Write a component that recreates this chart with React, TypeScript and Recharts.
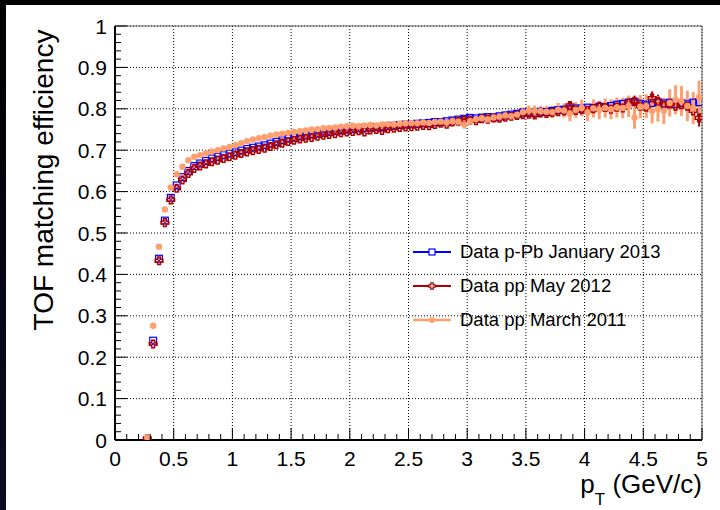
import React from "react"
import {
  ScatterChart,
  Scatter,
  XAxis,
  YAxis,
  CartesianGrid,
  ReferenceLine,
  ErrorBar,
  Legend,
} from "recharts"

const FONT = '"Liberation Sans", Arial, Helvetica, sans-serif'

// bin centres (GeV/c)
const ptBins = [
  0.275, 0.325, 0.375, 0.425, 0.475, 0.525, 0.575, 0.625, 0.675, 0.725,
  0.775, 0.825, 0.875, 0.925, 0.975, 1.025, 1.075, 1.125, 1.175, 1.225,
  1.275, 1.325, 1.375, 1.425, 1.475, 1.525, 1.575, 1.625, 1.675, 1.725,
  1.775, 1.825, 1.875, 1.925, 1.975, 2.025, 2.075, 2.125, 2.175, 2.225,
  2.275, 2.325, 2.375, 2.425, 2.475, 2.525, 2.575, 2.625, 2.675, 2.725,
  2.775, 2.825, 2.875, 2.925, 2.975, 3.025, 3.075, 3.125, 3.175, 3.225,
  3.275, 3.325, 3.375, 3.425, 3.475, 3.525, 3.575, 3.625, 3.675, 3.725,
  3.775, 3.825, 3.875, 3.925, 3.975, 4.025, 4.075, 4.125, 4.175, 4.225,
  4.275, 4.325, 4.375, 4.425, 4.475, 4.525, 4.575, 4.625, 4.675, 4.725,
  4.775, 4.825, 4.875, 4.925, 4.975,
]

// Data p-Pb January 2013
const effPPb2013 = [
  0.000, 0.240, 0.438, 0.530, 0.585, 0.615, 0.635, 0.650, 0.662, 0.668,
  0.674, 0.680, 0.684, 0.688, 0.692, 0.695, 0.699, 0.703, 0.706, 0.709,
  0.712, 0.716, 0.720, 0.724, 0.728, 0.730, 0.733, 0.735, 0.738, 0.740,
  0.742, 0.744, 0.746, 0.748, 0.750, 0.751, 0.753, 0.754, 0.754, 0.756,
  0.756, 0.758, 0.759, 0.761, 0.762, 0.763, 0.764, 0.765, 0.766, 0.768,
  0.768, 0.770, 0.772, 0.774, 0.776, 0.778, 0.777, 0.779, 0.780, 0.779,
  0.782, 0.784, 0.786, 0.788, 0.791, 0.792, 0.790, 0.793, 0.792, 0.795,
  0.797, 0.798, 0.799, 0.801, 0.800, 0.803, 0.802, 0.805, 0.804, 0.807,
  0.810, 0.812, 0.815, 0.817, 0.812, 0.810, 0.814, 0.816, 0.813, 0.815,
  0.812, 0.814, 0.811, 0.815, 0.816,
]
const errPPb2013 = [
  0.001, 0.002, 0.002, 0.002, 0.002, 0.002, 0.002, 0.002, 0.002, 0.002,
  0.002, 0.002, 0.002, 0.002, 0.002, 0.002, 0.002, 0.002, 0.002, 0.002,
  0.002, 0.002, 0.002, 0.002, 0.002, 0.002, 0.002, 0.002, 0.002, 0.002,
  0.002, 0.002, 0.002, 0.002, 0.002, 0.002, 0.002, 0.002, 0.002, 0.002,
  0.002, 0.002, 0.002, 0.002, 0.003, 0.003, 0.003, 0.003, 0.003, 0.003,
  0.003, 0.003, 0.003, 0.003, 0.003, 0.003, 0.003, 0.003, 0.004, 0.004,
  0.004, 0.004, 0.004, 0.004, 0.004, 0.004, 0.005, 0.005, 0.005, 0.005,
  0.005, 0.005, 0.005, 0.006, 0.006, 0.006, 0.006, 0.006, 0.006, 0.006,
  0.007, 0.007, 0.007, 0.007, 0.007, 0.007, 0.008, 0.008, 0.008, 0.008,
  0.008, 0.008, 0.009, 0.009, 0.009,
]

// Data pp May 2012
const effPP2012 = [
  0.003, 0.232, 0.433, 0.525, 0.580, 0.608, 0.628, 0.644, 0.656, 0.662,
  0.667, 0.672, 0.676, 0.680, 0.684, 0.688, 0.692, 0.696, 0.699, 0.702,
  0.705, 0.709, 0.713, 0.717, 0.721, 0.724, 0.727, 0.729, 0.731, 0.734,
  0.736, 0.738, 0.740, 0.742, 0.744, 0.745, 0.747, 0.744, 0.749, 0.750,
  0.748, 0.752, 0.753, 0.755, 0.756, 0.757, 0.758, 0.760, 0.759, 0.762,
  0.765, 0.763, 0.768, 0.770, 0.772, 0.773, 0.771, 0.776, 0.775, 0.778,
  0.777, 0.780, 0.782, 0.784, 0.786, 0.787, 0.785, 0.790, 0.789, 0.791,
  0.793, 0.795, 0.808, 0.796, 0.798, 0.796, 0.800, 0.806, 0.803, 0.799,
  0.804, 0.802, 0.814, 0.818, 0.806, 0.804, 0.826, 0.818, 0.808, 0.812,
  0.806, 0.810, 0.806, 0.795, 0.778,
]
const errPP2012 = [
  0.001, 0.002, 0.002, 0.002, 0.002, 0.002, 0.002, 0.002, 0.002, 0.002,
  0.002, 0.002, 0.002, 0.002, 0.002, 0.002, 0.002, 0.002, 0.002, 0.002,
  0.002, 0.002, 0.002, 0.002, 0.002, 0.002, 0.002, 0.002, 0.002, 0.002,
  0.003, 0.003, 0.003, 0.003, 0.003, 0.003, 0.003, 0.003, 0.003, 0.003,
  0.003, 0.003, 0.003, 0.003, 0.003, 0.004, 0.004, 0.004, 0.004, 0.004,
  0.004, 0.004, 0.004, 0.005, 0.005, 0.005, 0.005, 0.005, 0.005, 0.006,
  0.006, 0.006, 0.006, 0.007, 0.007, 0.007, 0.007, 0.008, 0.008, 0.008,
  0.009, 0.009, 0.010, 0.010, 0.010, 0.011, 0.011, 0.012, 0.012, 0.012,
  0.013, 0.013, 0.014, 0.014, 0.015, 0.015, 0.016, 0.016, 0.017, 0.017,
  0.018, 0.018, 0.019, 0.020, 0.021,
]

// Data pp March 2011
const effPP2011 = [
  0.006, 0.276, 0.467, 0.557, 0.610, 0.642, 0.660, 0.676, 0.684, 0.688,
  0.692, 0.697, 0.700, 0.704, 0.708, 0.712, 0.717, 0.722, 0.726, 0.729,
  0.732, 0.735, 0.738, 0.740, 0.742, 0.744, 0.746, 0.748, 0.750, 0.751,
  0.753, 0.754, 0.755, 0.757, 0.758, 0.759, 0.758, 0.760, 0.761, 0.760,
  0.762, 0.763, 0.762, 0.764, 0.765, 0.766, 0.765, 0.767, 0.766, 0.768,
  0.769, 0.767, 0.770, 0.769, 0.762, 0.770, 0.775, 0.777, 0.774, 0.779,
  0.781, 0.784, 0.782, 0.786, 0.792, 0.796, 0.795, 0.794, 0.793, 0.792,
  0.798, 0.796, 0.788, 0.797, 0.802, 0.791, 0.801, 0.797, 0.802, 0.799,
  0.803, 0.802, 0.806, 0.779, 0.805, 0.806, 0.795, 0.800, 0.795, 0.814,
  0.822, 0.819, 0.807, 0.802, 0.828,
]
const errPP2011 = [
  0.002, 0.004, 0.003, 0.003, 0.003, 0.003, 0.003, 0.003, 0.003, 0.003,
  0.003, 0.003, 0.003, 0.003, 0.003, 0.003, 0.003, 0.003, 0.003, 0.003,
  0.003, 0.003, 0.003, 0.003, 0.003, 0.003, 0.003, 0.003, 0.003, 0.003,
  0.004, 0.004, 0.004, 0.004, 0.004, 0.004, 0.004, 0.004, 0.004, 0.004,
  0.004, 0.004, 0.005, 0.005, 0.005, 0.005, 0.005, 0.006, 0.006, 0.006,
  0.006, 0.006, 0.007, 0.007, 0.010, 0.008, 0.008, 0.008, 0.009, 0.009,
  0.009, 0.010, 0.010, 0.011, 0.011, 0.012, 0.013, 0.013, 0.014, 0.015,
  0.016, 0.017, 0.018, 0.019, 0.020, 0.021, 0.022, 0.022, 0.023, 0.024,
  0.024, 0.025, 0.026, 0.027, 0.028, 0.029, 0.030, 0.031, 0.032, 0.033,
  0.035, 0.036, 0.037, 0.039, 0.040,
]

const seriesNames = [
  "Data p-Pb January 2013",
  "Data pp May 2012",
  "Data pp March 2011",
]

const xMajor = [0, 0.5, 1, 1.5, 2, 2.5, 3, 3.5, 4, 4.5, 5]
const yMajor = [0, 0.1, 0.2, 0.3, 0.4, 0.5, 0.6, 0.7, 0.8, 0.9, 1]

const BLUE = "#0000ff"
const RED = "#b00000"
const ORANGE = "#ff9e6e"

// minor ticks between majors (ROOT style divisions)
function subdivide(majors: number[], n: number) {
  const out: number[] = []
  for (let i = 0; i < majors.length - 1; i++) {
    for (let k = 0; k < n; k++) {
      out.push(+(majors[i] + ((majors[i + 1] - majors[i]) * k) / n).toFixed(4))
    }
  }
  out.push(majors[majors.length - 1])
  return out
}
const xTicks = subdivide(xMajor, 5)
const yTicks = subdivide(yMajor, 5)

const isMajor = (majors: number[], v: number) =>
  majors.some((m) => Math.abs(m - v) < 1e-6)

const toPoints = (vals: number[], errs: number[]) =>
  ptBins.map((pt, i) => ({ pt, v: vals[i], e: errs[i] }))

const pPbData = toPoints(effPPb2013, errPPb2013)
const pp12Data = toPoints(effPP2012, errPP2012)
const pp11Data = toPoints(effPP2011, errPP2011)

const XTick = (props: any) => {
  const { x, y, payload } = props
  const major = isMajor(xMajor, payload.value)
  return (
    <g>
      <line x1={x} x2={x} y1={y} y2={y - (major ? 12 : 6)} stroke="#000" strokeWidth={1} />
      {major && (
        <text x={x} y={y + 26} textAnchor="middle" fontSize={21} fontFamily={FONT} fill="#000">
          {String(payload.value)}
        </text>
      )}
    </g>
  )
}

const YTick = (props: any) => {
  const { x, y, payload } = props
  const major = isMajor(yMajor, payload.value)
  return (
    <g>
      <line x1={x} x2={x + (major ? 12 : 6)} y1={y} y2={y} stroke="#000" strokeWidth={1} />
      {major && (
        <text x={x - 8} y={y + 7.5} textAnchor="end" fontSize={21} fontFamily={FONT} fill="#000">
          {String(payload.value)}
        </text>
      )}
    </g>
  )
}

const crossPath = (cx: number, cy: number, a: number, b: number) =>
  `M${cx - a},${cy - b}H${cx + a}V${cy - a}H${cx + b}V${cy + a}H${cx + a}V${cy + b}` +
  `H${cx - a}V${cy + a}H${cx - b}V${cy - a}H${cx - a}Z`

const SquareMarker = (p: any) => (
  <rect x={p.cx - 3.4} y={p.cy - 3.4} width={6.8} height={6.8} fill="none" stroke={BLUE} strokeWidth={1.2} />
)
const CrossMarker = (p: any) => (
  <path d={crossPath(p.cx, p.cy, 1.4, 3.8)} fill="none" stroke={RED} strokeWidth={1.5} />
)
const CircleMarker = (p: any) => <circle cx={p.cx} cy={p.cy} r={3.2} fill={ORANGE} />

const legendMarkers = [
  { color: BLUE, width: 2, icon: <rect x={24} y={14} width={6} height={6} fill="#fff" stroke={BLUE} strokeWidth={1.2} /> },
  { color: RED, width: 2, icon: <path d={crossPath(27, 17, 1.2, 3.2)} fill="#fff" stroke={RED} strokeWidth={1.3} /> },
  { color: ORANGE, width: 2.5, icon: <circle cx={27} cy={17} r={3} fill={ORANGE} /> },
]

const renderLegend = () => (
  <div style={{ fontFamily: FONT, fontSize: 18.5, color: "#000" }}>
    {seriesNames.map((name, i) => (
      <div key={name} style={{ display: "flex", alignItems: "center", height: 34, whiteSpace: "nowrap" }}>
        <svg width={50} height={34}>
          <line x1={8} x2={46} y1={17} y2={17} stroke={legendMarkers[i].color} strokeWidth={legendMarkers[i].width} />
          {legendMarkers[i].icon}
        </svg>
        <span style={{ marginLeft: 5 }}>{name}</span>
      </div>
    ))}
  </div>
)

export default function App() {
  return (
    <div style={{ position: "absolute", left: 0, top: 0, width: 720, height: 510, background: "#000", overflow: "hidden" }}>
      <div style={{ position: "absolute", left: 0, top: 0, width: 6, height: 510, background: "linear-gradient(#000, #0b0d22)" }} />
      <div style={{ position: "absolute", left: 6, top: 5, width: 714, height: 505, background: "#fff" }} />

      <div style={{ position: "absolute", left: 0, top: 0 }}>
        <ScatterChart width={720} height={510} margin={{ top: 26, right: 18, bottom: 10, left: 15 }}>
          {/* dotted grid on the major divisions */}
          <CartesianGrid
            stroke="#000"
            strokeDasharray="1 2"
            horizontalValues={yMajor.slice(1)}
            verticalValues={xMajor.slice(1)}
          />
          <ReferenceLine y={1} stroke="#666" strokeWidth={1} />
          <ReferenceLine x={5} stroke="#666" strokeWidth={1} />

          <XAxis
            type="number"
            dataKey="pt"
            domain={[0, 5]}
            ticks={xTicks}
            interval={0}
            tick={<XTick />}
            tickLine={false}
            tickSize={0}
            tickMargin={0}
            axisLine={{ stroke: "#000", strokeWidth: 2 }}
            height={60}
            allowDataOverflow
          />
          <YAxis
            type="number"
            dataKey="v"
            domain={[0, 1]}
            ticks={yTicks}
            interval={0}
            tick={<YTick />}
            tickLine={false}
            tickSize={0}
            tickMargin={0}
            axisLine={{ stroke: "#000", strokeWidth: 2 }}
            width={100}
            allowDataOverflow
          />

          <Legend
            layout="vertical"
            align="center"
            verticalAlign="middle"
            wrapperStyle={{ left: 405, top: 235, width: 300 }}
            content={renderLegend}
          />

          <Scatter name={seriesNames[0]} data={pPbData} shape={<SquareMarker />} isAnimationActive={false}>
            <ErrorBar dataKey="e" direction="y" width={0} stroke={BLUE} strokeWidth={1} />
          </Scatter>
          <Scatter name={seriesNames[1]} data={pp12Data} shape={<CrossMarker />} isAnimationActive={false}>
            <ErrorBar dataKey="e" direction="y" width={0} stroke={RED} strokeWidth={2} />
          </Scatter>
          <Scatter name={seriesNames[2]} data={pp11Data} shape={<CircleMarker />} isAnimationActive={false}>
            <ErrorBar dataKey="e" direction="y" width={0} stroke={ORANGE} strokeWidth={3} />
          </Scatter>
        </ScatterChart>
      </div>

      {/* axis titles */}
      <div
        style={{
          position: "absolute",
          left: 44,
          top: 180,
          transform: "translate(-50%, -50%) rotate(-90deg)",
          fontFamily: FONT,
          fontSize: 28,
          lineHeight: 1,
          whiteSpace: "nowrap",
          color: "#000",
        }}
      >
        TOF matching efficiency
      </div>
      <div
        style={{
          position: "absolute",
          right: 18,
          top: 471,
          fontFamily: FONT,
          fontSize: 26,
          lineHeight: 1,
          whiteSpace: "nowrap",
          color: "#000",
        }}
      >
        p<span style={{ fontSize: 17, position: "relative", top: 12 }}>T</span> (GeV/c)
      </div>
    </div>
  )
}
